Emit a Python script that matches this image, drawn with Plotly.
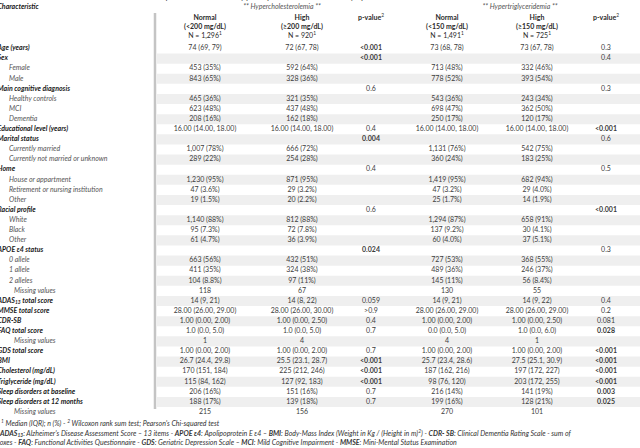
import plotly.graph_objects as go

# ---------------- data ----------------
row_labels = [
    "Age (years)", "Sex", "Female", "Male", "Main cognitive diagnosis",
    "Healthy controls", "MCI", "Dementia", "Educational level (years)",
    "Marital status", "Currently married", "Currently not married or unknown",
    "Home", "House or appartment", "Retirement or nursing institution", "Other",
    "Racial profile", "White", "Black", "Other", "APOE ε4 status",
    "0 allele", "1 allele", "2 alleles", "Missing values",
    "ADAS<sub>13</sub> total score", "MMSE total score", "CDR-SB", "FAQ total score",
    "Missing values", "GDS total score", "BMI", "Cholesterol (mg/dL)",
    "Triglyceride (mg/dL)", "Sleep disorders at baseline",
    "Sleep disorders at 12 months", "Missing values",
]
row_level = [0, 0, 1, 1, 0, 1, 1, 1, 0, 0, 1, 1, 0, 1, 1, 1, 0, 1, 1, 1, 0,
             1, 1, 1, 2, 0, 0, 0, 0, 2, 0, 0, 0, 0, 0, 0, 2]

chol_normal = ["74 (69, 79)", "", "453 (35%)", "843 (65%)", "", "465 (36%)", "623 (48%)", "208 (16%)",
               "16.00 (14.00, 18.00)", "", "1,007 (78%)", "289 (22%)", "", "1,230 (95%)", "47 (3.6%)",
               "19 (1.5%)", "", "1,140 (88%)", "95 (7.3%)", "61 (4.7%)", "", "663 (56%)", "411 (35%)",
               "104 (8.8%)", "118", "14 (9, 21)", "28.00 (26.00, 29.00)", "1.00 (0.00, 2.00)",
               "1.0 (0.0, 5.0)", "1", "1.00 (0.00, 2.00)", "26.7 (24.4, 29.8)", "170 (151, 184)",
               "115 (84, 162)", "206 (16%)", "188 (17%)", "215"]
chol_high = ["72 (67, 78)", "", "592 (64%)", "328 (36%)", "", "321 (35%)", "437 (48%)", "162 (18%)",
             "16.00 (14.00, 18.00)", "", "666 (72%)", "254 (28%)", "", "871 (95%)", "29 (3.2%)",
             "20 (2.2%)", "", "812 (88%)", "72 (7.8%)", "36 (3.9%)", "", "432 (51%)", "324 (38%)",
             "97 (11%)", "67", "14 (8, 22)", "28.00 (26.00, 30.00)", "1.00 (0.00, 2.50)",
             "1.0 (0.0, 5.0)", "4", "1.00 (0.00, 2.00)", "25.5 (23.1, 28.7)", "225 (212, 246)",
             "127 (92, 183)", "151 (16%)", "139 (18%)", "156"]
chol_p = ["<0.001", "<0.001", "", "", "0.6", "", "", "", "0.4", "0.004", "", "", "0.4", "", "", "",
          "0.6", "", "", "", "0.024", "", "", "", "", "0.059", ">0.9", "0.4", "0.7", "", "0.7",
          "<0.001", "<0.001", "<0.001", "0.7", "0.7", ""]
trig_normal = ["73 (68, 78)", "", "713 (48%)", "778 (52%)", "", "543 (36%)", "698 (47%)", "250 (17%)",
               "16.00 (14.00, 18.00)", "", "1,131 (76%)", "360 (24%)", "", "1,419 (95%)", "47 (3.2%)",
               "25 (1.7%)", "", "1,294 (87%)", "137 (9.2%)", "60 (4.0%)", "", "727 (53%)", "489 (36%)",
               "145 (11%)", "130", "14 (9, 21)", "28.00 (26.00, 29.00)", "1.00 (0.00, 2.00)",
               "0.0 (0.0, 5.0)", "4", "1.00 (0.00, 2.00)", "25.7 (23.4, 28.6)", "187 (162, 216)",
               "98 (76, 120)", "216 (14%)", "199 (16%)", "270"]
trig_high = ["73 (67, 78)", "", "332 (46%)", "393 (54%)", "", "243 (34%)", "362 (50%)", "120 (17%)",
             "16.00 (14.00, 18.00)", "", "542 (75%)", "183 (25%)", "", "682 (94%)", "29 (4.0%)",
             "14 (1.9%)", "", "658 (91%)", "30 (4.1%)", "37 (5.1%)", "", "368 (55%)", "246 (37%)",
             "56 (8.4%)", "55", "14 (9, 22)", "28.00 (26.00, 29.00)", "1.00 (0.00, 2.50)",
             "1.0 (0.0, 6.0)", "1", "1.00 (0.00, 2.00)", "27.5 (25.1, 30.9)", "197 (172, 227)",
             "203 (172, 255)", "141 (19%)", "128 (21%)", "101"]
trig_p = ["0.3", "0.4", "", "", "0.3", "", "", "", "<0.001", "0.6", "", "", "0.5", "", "", "",
          "<0.001", "", "", "", "0.3", "", "", "", "", "0.4", "0.2", "0.081", "0.028", "", "<0.001",
          "<0.001", "<0.001", "<0.001", "0.003", "0.025", ""]

group_titles = ["** Hypercholesterolemia **", "** Hypertriglyceridemia **"]
col_titles = ["Normal", "High", "p-value", "Normal", "High", "p-value"]
col_ranges = ["(<200 mg/dL)", "(≥200 mg/dL)", "", "(<150 mg/dL)", "(≥150 mg/dL)", ""]
col_n = ["N = 1,296", "N = 920", "", "N = 1,491", "N = 725", ""]

footnotes = [
    "<sup>1</sup> Median (IQR); n (%) - <sup>2</sup> Wilcoxon rank sum test; Pearson's Chi-squared test",
    "<b>ADAS<sub>13</sub></b>: Alzheimer's Disease Assessment Score – 13 items - <b>APOE ε4</b>: Apolipoprotein E ε4 – "
    "<b>BMI</b>: Body-Mass Index (Weight in Kg / (Height in m)<sup>2</sup>) - <b>CDR- SB</b>: Clinical Dementia Rating Scale - sum of",
    "boxes - <b>FAQ</b>: Functional Activities Questionnaire - <b>GDS</b>: Geriatric Depression Scale – "
    "<b>MCI</b>: Mild Cognitive Impairment - <b>MMSE</b>: Mini-Mental Status Examination",
]
title_text = "Table 2. Comparison between elderly participants with and without dyslipidemia"

# ---------------- layout constants ----------------
W, H = 640, 448
FONT = "Lato"
FS = 7
ROW0, DY = 48.5, 10.1
col_x = [205, 302, 371, 447, 537, 606]
DIV_X = 155
GRAY_BAND = "#efefef"
TXT = "#3c3c3c"

n = len(row_labels)
ys = [ROW0 + i * DY for i in range(n)]

fig = go.Figure()

# row shading (even rows)
shapes = []
for i, y in enumerate(ys):
    if i % 2 == 1:
        shapes.append(dict(type="rect", xref="x", yref="y", x0=DIV_X + 2, x1=W,
                           y0=y - DY / 2, y1=y + DY / 2, fillcolor=GRAY_BAND,
                           line=dict(width=0), layer="below"))
shapes.append(dict(type="line", xref="x", yref="y", x0=DIV_X, x1=DIV_X, y0=13, y1=409,
                   line=dict(color="#c4c4c4", width=2.5)))

# labels
lab_x, lab_y, lab_t, lab_c = [], [], [], []
for lab, lev, y in zip(row_labels, row_level, ys):
    if lev == 0:
        lab_x.append(-2.5); lab_t.append(f"<b><i>{lab}</i></b>"); lab_c.append("#1a1a1a")
    elif lev == 1:
        lab_x.append(9); lab_t.append(f"<i>{lab}</i>"); lab_c.append("#555555")
    else:
        lab_x.append(14); lab_t.append(f"<i>{lab}</i>"); lab_c.append("#555555")
    lab_y.append(y)
fig.add_trace(go.Scatter(x=lab_x, y=lab_y, text=lab_t, mode="text", textposition="middle right",
                         textfont=dict(family=FONT, size=FS, color=lab_c), hoverinfo="skip",
                         showlegend=False))


def pfmt(p):
    if not p:
        return ""
    bold = p.startswith("<") or (not p.startswith(">") and float(p) < 0.05)
    p = p.replace("<", "&lt;").replace(">", "&gt;")
    return f"<b>{p}</b>" if bold else p


cols = [chol_normal, chol_high, [pfmt(p) for p in chol_p],
        trig_normal, trig_high, [pfmt(p) for p in trig_p]]
for cx, vals in zip(col_x, cols):
    keep = [(y, v) for y, v in zip(ys, vals) if v]
    fig.add_trace(go.Scatter(x=[cx] * len(keep), y=[k[0] for k in keep], text=[k[1] for k in keep],
                             mode="text", textposition="middle center",
                             textfont=dict(family=FONT, size=FS, color=TXT), hoverinfo="skip",
                             showlegend=False))

# header
hx, hy, ht = [], [], []
for cx, t, r, nn in zip(col_x, col_titles, col_ranges, col_n):
    if t == "p-value":
        hx.append(cx); hy.append(18); ht.append(f"<b>{t}</b><sup>2</sup>")
    else:
        hx += [cx, cx, cx]
        hy += [18, 27.5, 36.5]
        ht += [f"<b>{t}</b>", f"<b>{r.replace('<', '&lt;')}</b>", f"{nn}<sup>1</sup>"]
fig.add_trace(go.Scatter(x=hx, y=hy, text=ht, mode="text", textposition="middle center",
                         textfont=dict(family=FONT, size=FS, color="#2a2a2a"), hoverinfo="skip",
                         showlegend=False))
fig.add_trace(go.Scatter(x=[282, 520], y=[7.5, 7.5], text=[f"<i>{g}</i>" for g in group_titles],
                         mode="text", textposition="middle center",
                         textfont=dict(family=FONT, size=FS, color="#555555"), hoverinfo="skip",
                         showlegend=False))
fig.add_trace(go.Scatter(x=[-2.5], y=[7], text=["<b><i>Characteristic</i></b>"], mode="text",
                         textposition="middle right",
                         textfont=dict(family=FONT, size=FS, color="#1a1a1a"), hoverinfo="skip",
                         showlegend=False))

# title (clipped at the top) and footnotes, in paper coordinates
annotations = [dict(x=255 / W, y=1 + 2.5 / H, xref="paper", yref="paper", text=f"<i>{title_text}</i>",
                    showarrow=False, xanchor="center", yanchor="middle",
                    font=dict(family=FONT, size=FS + 1, color="#333"))]
for fx, fy, ft in zip([-1, -3, -6], [423, 432.5, 442], footnotes):
    annotations.append(dict(x=fx / W, y=1 - fy / H, xref="paper", yref="paper", text=f"<i>{ft}</i>",
                            showarrow=False, xanchor="left", yanchor="middle",
                            font=dict(family=FONT, size=FS, color="#333333")))

fig.update_layout(
    width=W, height=H, margin=dict(l=0, r=0, t=0, b=0),
    paper_bgcolor="white", plot_bgcolor="white",
    xaxis=dict(range=[0, W], visible=False, fixedrange=True),
    yaxis=dict(range=[H, 0], visible=False, fixedrange=True),
    shapes=shapes, annotations=annotations, showlegend=False,
)
fig.write_html("out.html", config={"displayModeBar": False},
               post_script="document.body.style.margin='0';document.body.style.overflow='hidden';")
